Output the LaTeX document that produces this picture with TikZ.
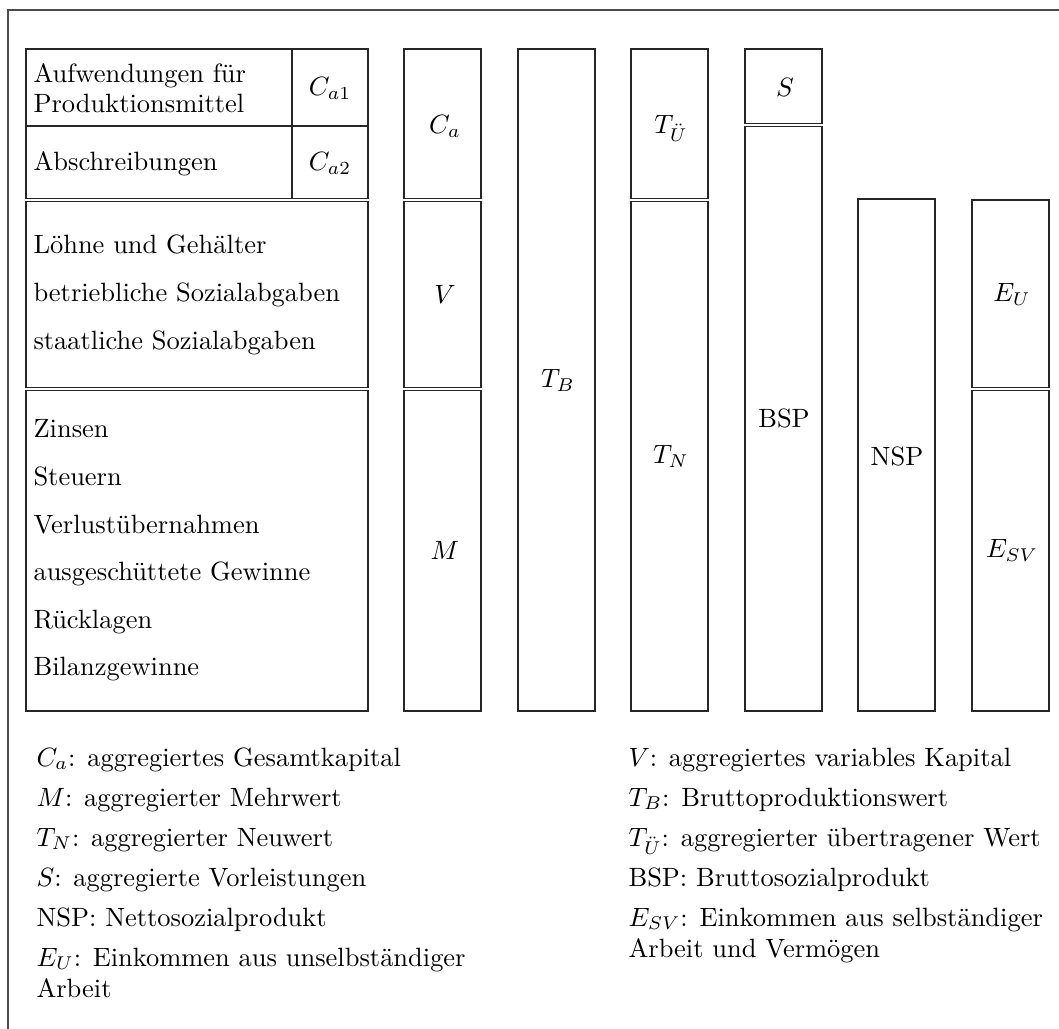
\documentclass[tikz,border=0pt]{standalone}
\usepackage{fontspec}
\begin{document}
\begin{tikzpicture}[x=0.378pt,y=-0.378pt,
  box/.style={draw=black!85, line width=0.42pt},
  frame/.style={draw=black!70, line width=0.42pt},
  lbl/.style={inner sep=0pt},
  txt/.style={anchor=base west, inner sep=0pt}]
\useasboundingbox (0,0) rectangle (1059,1028);
\clip (0,0) rectangle (1059,1028);
\draw[frame] (8,10) rectangle (1120,1120);

% ---- left table ----
\draw[box] (26,49) rectangle (292,126);
\draw[box] (292,49) rectangle (368,126);
\draw[box] (26,126) rectangle (292,198.8);
\draw[box] (292,126) rectangle (368,198.8);
\draw[box] (26,201.2) rectangle (368,387.8);
\draw[box] (26,390.2) rectangle (368,711);
\node[txt] (a1) at (33,82) {Aufwendungen für};
\node[txt] (a2) at (33,112) {Produktionsmittel};
\node[lbl] (ca1) at (330,88) {$C_{a1}$};
\node[txt] (a3) at (33,170) {Abschreibungen};
\node[lbl] (ca2) at (330,163) {$C_{a2}$};
\node[txt] (b1) at (33,253) {Löhne und Gehälter};
\node[txt] (b2) at (33,301) {betriebliche Sozialabgaben};
\node[txt] (b3) at (33,349) {staatliche Sozialabgaben};
\node[txt] (c1) at (33,437) {Zinsen};
\node[txt] (c2) at (33,485) {Steuern};
\node[txt] (c3) at (33,533) {Verlustübernahmen};
\node[txt] (c4) at (33,580) {ausgeschüttete Gewinne};
\node[txt] (c5) at (33,628) {Rücklagen};
\node[txt] (c6) at (33,675) {Bilanzgewinne};

% ---- column C_a / V / M ----
\draw[box] (404,49) rectangle (481,198.8);
\draw[box] (404,201.2) rectangle (481,387.8);
\draw[box] (404,390.2) rectangle (481,711);
\node[lbl] (ca) at (445,126) {$C_a$};
\node[lbl] (v) at (445,294) {$V$};
\node[lbl] (m) at (445,550) {$M$};

% ---- column T_B ----
\draw[box] (518,49) rectangle (595,711);
\node[lbl] (tb) at (558,380) {$T_B$};

% ---- column T_U / T_N ----
\draw[box] (631,49) rectangle (708,198.8);
\draw[box] (631,201.2) rectangle (708,711);
\node[lbl] (tu) at (671,128) {$T_{\ddot U}$};
\node[lbl] (tn) at (671,456) {$T_N$};

% ---- column S / BSP ----
\draw[box] (745,49) rectangle (822,123.8);
\draw[box] (745,126.2) rectangle (822,711);
\node[lbl] (s) at (785,87) {$S$};
\node[lbl] (bsp) at (784,418) {BSP};

% ---- column NSP ----
\draw[box] (858,199) rectangle (935,711);
\node[lbl] (nsp) at (897,456) {NSP};

% ---- column E_U / E_SV ----
\draw[box] (972,200) rectangle (1049,387.8);
\draw[box] (972,390.2) rectangle (1049,711);
\node[lbl] (eu) at (1012,294) {$E_U$};
\node[lbl] (esv) at (1012,550) {$E_{SV}$};

% ---- legend ----
\node[txt] (l1) at (36,766) {$C_a$: aggregiertes Gesamtkapital};
\node[txt] (l2) at (36,806) {$M$: aggregierter Mehrwert};
\node[txt] (l3) at (36,846) {$T_N$: aggregierter Neuwert};
\node[txt] (l4) at (36,886) {$S$: aggregierte Vorleistungen};
\node[txt] (l5) at (36,926) {NSP: Nettosozialprodukt};
\node[txt] (l6) at (36,966) {$E_U$: Einkommen aus unselbständiger};
\node[txt] (l6b) at (36,997) {Arbeit};
\node[txt] (r1) at (628,766) {$V$: aggregiertes variables Kapital};
\node[txt] (r2) at (628,806) {$T_B$: Bruttoproduktionswert};
\node[txt] (r3) at (628,846) {$T_{\ddot U}$: aggregierter übertragener Wert};
\node[txt] (r4) at (628,886) {BSP: Bruttosozialprodukt};
\node[txt] (r5) at (628,926) {$E_{SV}$: Einkommen aus selbständiger};
\node[txt] (r5b) at (628,957) {Arbeit und Vermögen};
\end{tikzpicture}
\end{document}
